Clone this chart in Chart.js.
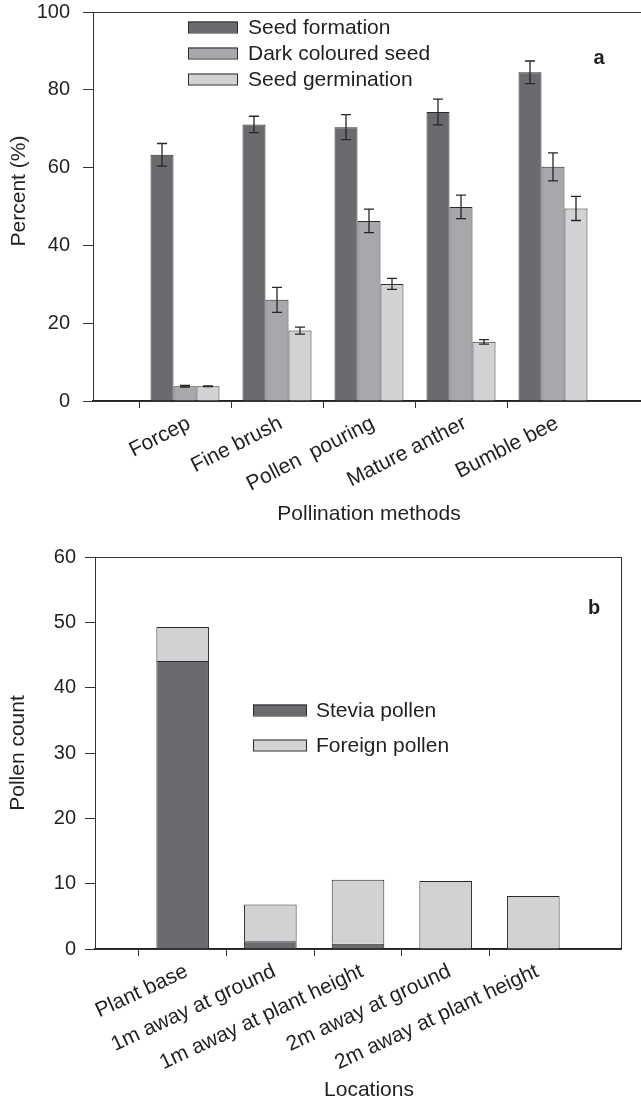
<!DOCTYPE html>
<html>
<head>
<meta charset="utf-8">
<script src="https://cdn.jsdelivr.net/npm/chart.js@4.4.1/dist/chart.umd.min.js"></script>
<style>
  html, body { margin: 0; padding: 0; background: #fff; overflow: hidden; }
  #wrap { width: 641px; height: 1101px; overflow: hidden; }
  canvas { display: block; }
</style>
</head>
<body>
<div id="wrap">
  <canvas id="chartA" width="660" height="540"></canvas>
  <canvas id="chartB" width="660" height="561"></canvas>
</div>
<script>
// Panel a - pollination methods
const methods = ['Forcep', 'Fine brush', 'Pollen  pouring', 'Mature anther', 'Bumble bee'];
const seedFormation = [63.3, 71.1, 70.4, 74.3, 84.5];
const seedFormationErr = [2.9, 2.1, 3.2, 3.3, 2.9];
const darkSeed = [3.8, 26.0, 46.3, 49.9, 60.2];
const darkSeedErr = [0.2, 3.2, 3.0, 3.0, 3.6];
const germination = [3.8, 18.1, 30.1, 15.2, 49.5];
const germinationErr = [0.1, 0.9, 1.4, 0.6, 3.1];
const percentTicks = [0, 20, 40, 60, 80, 100];

// Panel b - locations
const locations = ['Plant base', '1m away at ground', '1m away at plant height', '2m away at ground', '2m away at plant height'];
const steviaPollen = [44.1, 1.2, 0.8, 0, 0];
const foreignPollen = [5.2, 5.6, 9.8, 10.4, 8.1];
const countTicks = [0, 10, 20, 30, 40, 50, 60];

const DARK = '#6a6b6f';
const MID = '#a7a8ab';
const LIGHT = '#d1d2d4';
const INK = '#231f20';
const FONT = "'Liberation Sans', Arial, sans-serif";

Chart.defaults.font.family = FONT;
Chart.defaults.font.size = 21;
Chart.defaults.color = INK;

// empty slot on each side so the axis runs one category past the bars
const pad = arr => [null, ...arr, null];
const padLabels = arr => ['', ...arr, ''];

// error bars drawn from the y scale
const errorBars = {
    id: 'errorBars',
    afterDatasetsDraw(chart) {
        const ctx = chart.ctx;
        const yScale = chart.scales.y;
        ctx.save();
        ctx.strokeStyle = '#262626';
        ctx.lineWidth = 1.3;
        chart.data.datasets.forEach((ds, di) => {
            if (!ds.errors) return;
            const meta = chart.getDatasetMeta(di);
            meta.data.forEach((bar, i) => {
                const v = ds.data[i];
                const e = ds.errors[i];
                if (v == null || e == null) return;
                const yTop = yScale.getPixelForValue(v + e);
                const yBot = yScale.getPixelForValue(v - e);
                ctx.beginPath();
                ctx.moveTo(bar.x, yTop); ctx.lineTo(bar.x, yBot);
                ctx.moveTo(bar.x - 5, yTop); ctx.lineTo(bar.x + 5, yTop);
                ctx.moveTo(bar.x - 5, yBot); ctx.lineTo(bar.x + 5, yBot);
                ctx.stroke();
            });
        });
        ctx.restore();
    }
};

// frame, in-plot legend, panel letter, axis titles
const decor = {
    id: 'decor',
    afterDatasetsDraw(chart, args, opts) {
        const ctx = chart.ctx;
        const a = chart.chartArea;
        ctx.save();
        ctx.strokeStyle = '#333';
        ctx.lineWidth = 1;
        ctx.strokeRect(a.left + 0.5, a.top + 0.5, a.right - a.left, a.bottom - a.top);

        // legend
        const lg = opts.legend;
        ctx.font = '21px ' + FONT;
        ctx.textBaseline = 'middle';
        ctx.textAlign = 'left';
        chart.data.datasets.forEach((ds, i) => {
            const y = lg.y + i * lg.gap;
            ctx.fillStyle = ds.backgroundColor;
            ctx.fillRect(lg.x, y - lg.h / 2, lg.w, lg.h);
            ctx.strokeStyle = '#2b2b2b';
            ctx.strokeRect(lg.x + 0.5, y - lg.h / 2 + 0.5, lg.w, lg.h);
            ctx.fillStyle = INK;
            ctx.fillText(ds.label, lg.textX, y + 1);
        });

        // panel letter
        ctx.font = 'bold 20px ' + FONT;
        ctx.textAlign = 'center';
        ctx.fillText(opts.letter.text, opts.letter.x, opts.letter.y);

        // x axis title
        ctx.font = '21px ' + FONT;
        ctx.fillText(opts.xTitle.text, opts.xTitle.x, opts.xTitle.y);

        // y axis title
        ctx.translate(opts.yTitle.x, opts.yTitle.y);
        ctx.rotate(-Math.PI / 2);
        ctx.fillText(opts.yTitle.text, 0, 0);
        ctx.restore();
    }
};

function xAxis(height, rot) {
    return {
        offset: false,
        grid: {
            drawOnChartArea: false,
            drawTicks: true,
            tickLength: 7,
            tickColor: c => (c.index === 0 || c.index === 6) ? 'rgba(0,0,0,0)' : '#333'
        },
        border: { display: true, color: '#222', width: 2 },
        ticks: { autoSkip: false, minRotation: rot, maxRotation: rot, padding: 3, labelOffset: 4, color: INK },
        afterFit: s => { s.height = height; s.paddingLeft = 0; s.paddingRight = 0; }
    };
}

function yAxis(width, tickVals, max, labelPad) {
    return {
        min: 0,
        max: max,
        grid: { drawOnChartArea: false, drawTicks: true, tickLength: 10, tickColor: '#333' },
        border: { display: true, color: '#333', width: 1 },
        ticks: { padding: labelPad, color: INK, font: { size: 20 } },
        afterBuildTicks: s => { s.ticks = tickVals.map(v => ({ value: v })); },
        afterFit: s => { s.width = width; s.paddingTop = 0; s.paddingBottom = 0; }
    };
}

document.addEventListener('DOMContentLoaded', () => {
    // Chart a
    new Chart(document.getElementById('chartA').getContext('2d'), {
        type: 'bar',
        data: {
            labels: padLabels(methods),
            datasets: [
                { label: 'Seed formation', data: pad(seedFormation), errors: pad(seedFormationErr), backgroundColor: DARK },
                { label: 'Dark coloured seed', data: pad(darkSeed), errors: pad(darkSeedErr), backgroundColor: MID },
                { label: 'Seed germination', data: pad(germination), errors: pad(germinationErr), backgroundColor: LIGHT }
            ].map(d => Object.assign(d, { borderColor: '#2b2b2b', borderWidth: 1,
                                          categoryPercentage: 0.75, barPercentage: 1.0 }))
        },
        options: {
            responsive: false,
            animation: false,
            layout: { padding: { top: 12, right: 15, left: 0, bottom: 0 } },
            scales: {
                x: xAxis(139, 27),
                y: yAxis(93, percentTicks, 100, 13)
            },
            plugins: {
                legend: { display: false },
                tooltip: { enabled: false },
                decor: {
                    legend: { x: 188, y: 27, gap: 26, w: 49, h: 11, textX: 248 },
                    letter: { text: 'a', x: 599, y: 58 },
                    xTitle: { text: 'Pollination methods', x: 369, y: 514 },
                    yTitle: { text: 'Percent (%)', x: 19, y: 191 }
                }
            }
        },
        plugins: [errorBars, decor]
    });

    // Chart b
    new Chart(document.getElementById('chartB').getContext('2d'), {
        type: 'bar',
        data: {
            labels: padLabels(locations),
            datasets: [
                { label: 'Stevia pollen', data: pad(steviaPollen), backgroundColor: DARK },
                { label: 'Foreign pollen', data: pad(foreignPollen), backgroundColor: LIGHT }
            ].map(d => Object.assign(d, { borderColor: '#2b2b2b', borderWidth: 1,
                                          categoryPercentage: 0.6, barPercentage: 1.0 }))
        },
        options: {
            responsive: false,
            animation: false,
            layout: { padding: { top: 17, right: 39, left: 0, bottom: 0 } },
            scales: {
                x: Object.assign(xAxis(152, 25), { stacked: true }),
                y: Object.assign(yAxis(95, countTicks, 60, 9), { stacked: true })
            },
            plugins: {
                legend: { display: false },
                tooltip: { enabled: false },
                decor: {
                    legend: { x: 253, y: 170, gap: 35, w: 53, h: 11, textX: 316 },
                    letter: { text: 'b', x: 594, y: 68 },
                    xTitle: { text: 'Locations', x: 369, y: 550 },
                    yTitle: { text: 'Pollen count', x: 18, y: 213 }
                }
            }
        },
        plugins: [errorBars, decor]
    });
});
</script>
</body>
</html>
